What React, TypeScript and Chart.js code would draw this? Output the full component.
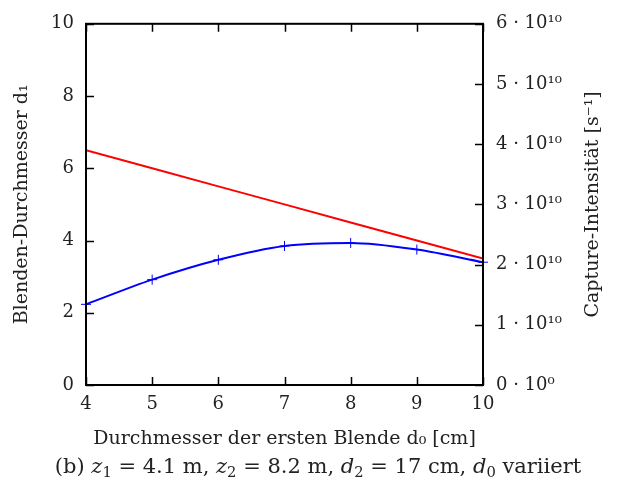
import React, { useEffect, useRef } from "react";
import { Chart, registerables } from "chart.js";

Chart.register(...registerables);

const xValues = [4, 5, 6, 7, 8, 9, 10];
const blendenDurchmesser = [6.5, 6.0, 5.5, 5.0, 4.5, 4.0, 3.5];
const captureIntensitaet = [1.34e10, 1.75e10, 2.08e10, 2.31e10, 2.36e10, 2.25e10, 2.04e10];
const rightTickLabels = ["0 · 10⁰", "1 · 10¹⁰", "2 · 10¹⁰", "3 · 10¹⁰", "4 · 10¹⁰", "5 · 10¹⁰", "6 · 10¹⁰"];
const xTitle = "Durchmesser der ersten Blende d₀ [cm]";
const yTitle = "Blenden-Durchmesser d₁";
const y2Title = "Capture-Intensität [s⁻¹]";

const FONT = "'DejaVu Serif', serif";

const framePlugin = {
  id: "frame",
  afterDatasetsDraw(chart: any) {
    const { ctx, chartArea, scales } = chart;
    const { left, right, top, bottom } = chartArea;
    const tl = 8;
    ctx.save();
    ctx.strokeStyle = "#000";
    ctx.lineWidth = 1.5;
    ctx.beginPath();
    scales.x.ticks.forEach((t: any) => {
      const px = Math.round(scales.x.getPixelForValue(t.value)) + 0.5;
      ctx.moveTo(px, bottom);
      ctx.lineTo(px, bottom - tl);
      ctx.moveTo(px, top);
      ctx.lineTo(px, top + tl);
    });
    scales.y.ticks.forEach((t: any) => {
      const py = Math.round(scales.y.getPixelForValue(t.value)) + 0.5;
      ctx.moveTo(left, py);
      ctx.lineTo(left + tl, py);
    });
    scales.y2.ticks.forEach((t: any) => {
      const py = Math.round(scales.y2.getPixelForValue(t.value)) + 0.5;
      ctx.moveTo(right, py);
      ctx.lineTo(right - tl, py);
    });
    ctx.stroke();
    ctx.lineWidth = 2;
    ctx.strokeRect(left, top, right - left, bottom - top);

    // right axis title, reading bottom-to-top
    ctx.translate(593, (top + bottom) / 2);
    ctx.rotate(-Math.PI / 2);
    ctx.fillStyle = "#222";
    ctx.font = `19px ${FONT}`;
    ctx.textAlign = "center";
    ctx.textBaseline = "middle";
    ctx.fillText(y2Title, 0, 0);
    ctx.restore();
  },
};

export default function App() {
  const ref = useRef<HTMLCanvasElement | null>(null);
  useEffect(() => {
    if (!ref.current) return;
    const chart = new Chart(ref.current, {
      type: "line",
      data: {
        datasets: [
          {
            label: "Blenden-Durchmesser",
            data: xValues.map((x, i) => ({ x, y: blendenDurchmesser[i] })),
            borderColor: "#ff0000",
            borderWidth: 2,
            pointRadius: 0,
            yAxisID: "y",
            tension: 0,
          },
          {
            label: "Capture-Intensität",
            data: xValues.map((x, i) => ({ x, y: captureIntensitaet[i] })),
            borderColor: "#0000ff",
            borderWidth: 2,
            pointStyle: "cross",
            pointRadius: 5,
            pointBorderWidth: 1,
            pointBorderColor: "#0000ff",
            yAxisID: "y2",
            cubicInterpolationMode: "monotone",
            clip: 8,
          } as any,
        ],
      },
      options: {
        animation: false,
        responsive: false,
        maintainAspectRatio: false,
        layout: { padding: { left: 0, right: 0, top: 22, bottom: 0 } },
        plugins: { legend: { display: false }, tooltip: { enabled: false } },
        scales: {
          x: {
            type: "linear",
            min: 4,
            max: 10,
            ticks: { stepSize: 1, padding: 9, color: "#222", font: { family: FONT, size: 18 } },
            grid: { display: false, drawTicks: false },
            border: { display: false },
            title: {
              display: true,
              text: xTitle,
              color: "#222",
              font: { family: FONT, size: 19 },
              padding: { top: 0, bottom: 42 },
            },
            afterFit: (s: any) => {
              s.height = 107;
            },
          },
          y: {
            type: "linear",
            position: "left",
            min: 0,
            max: 10,
            ticks: { stepSize: 2, padding: 12, color: "#222", font: { family: FONT, size: 18 } },
            grid: { display: false, drawTicks: false },
            border: { display: false },
            title: {
              display: true,
              text: yTitle,
              color: "#222",
              font: { family: FONT, size: 19 },
              padding: { top: 11, bottom: 0 },
            },
            afterFit: (s: any) => {
              s.width = 86;
            },
          },
          y2: {
            type: "linear",
            position: "right",
            min: 0,
            max: 6e10,
            ticks: {
              stepSize: 1e10,
              padding: 13,
              color: "#222",
              font: { family: FONT, size: 18 },
              callback: (v: any) => rightTickLabels[Math.round(Number(v) / 1e10)] ?? "",
            },
            grid: { display: false, drawTicks: false },
            border: { display: false },
            title: { display: false },
            afterFit: (s: any) => {
              s.width = 135;
            },
          },
        },
      },
      plugins: [framePlugin],
    });
    return () => chart.destroy();
  }, []);

  const sub = (t: string) => (
    <span style={{ fontSize: "0.7em", verticalAlign: "-0.3em" }}>{t}</span>
  );

  return (
    <div style={{ position: "fixed", left: 0, top: 0, width: 618, height: 492, background: "#fff" }}>
      <canvas ref={ref} width={618} height={492} style={{ position: "absolute", left: 0, top: 0 }} />
      <div
        style={{
          position: "absolute",
          left: 18,
          width: 600,
          top: 454,
          textAlign: "center",
          fontFamily: FONT,
          fontSize: 21,
          color: "#222",
          whiteSpace: "nowrap",
        }}
      >
        (b) <i>z</i>{sub("1")} = 4.1 m, <i>z</i>{sub("2")} = 8.2 m, <i>d</i>{sub("2")} = 17 cm, <i>d</i>
        {sub("0")} variiert
      </div>
    </div>
  );
}
